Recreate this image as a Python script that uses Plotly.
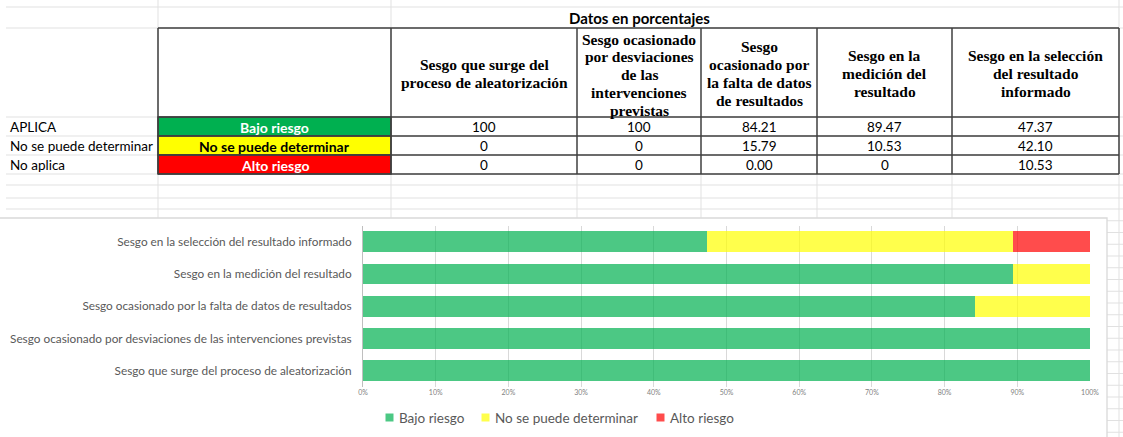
import plotly.graph_objects as go

# ---------------- data ----------------
categories = [
    "Sesgo que surge del proceso de aleatorización",
    "Sesgo ocasionado por desviaciones de las intervenciones previstas",
    "Sesgo ocasionado por la falta de datos de resultados",
    "Sesgo en la medición del resultado",
    "Sesgo en la selección del resultado informado",
]
header_labels = [
    ["Sesgo que surge del", "proceso de aleatorización"],
    ["Sesgo ocasionado", "por desviaciones", "de las", "intervenciones", "previstas"],
    ["Sesgo", "ocasionado por", "la falta de datos", "de resultados"],
    ["Sesgo en la", "medición del", "resultado"],
    ["Sesgo en la selección", "del resultado", "informado"],
]
series_names = ["Bajo riesgo", "No se puede determinar", "Alto riesgo"]
row_labels = ["APLICA", "No se puede determinar", "No aplica"]
bajo = [100, 100, 84.21, 89.47, 47.37]
no_det = [0, 0, 15.79, 10.53, 42.10]
alto = [0, 0, 0.00, 0, 10.53]
table_text = [
    ["100", "100", "84.21", "89.47", "47.37"],
    ["0", "0", "15.79", "10.53", "42.10"],
    ["0", "0", "0.00", "0", "10.53"],
]
title_text = "Datos en porcentajes"
x_ticks = [0, 10, 20, 30, 40, 50, 60, 70, 80, 90, 100]
x_tick_labels = [f"{v}%" for v in x_ticks]

# ---------------- style ----------------
W, H = 1123, 437
def X(p): return p / W
def Y(p): return 1 - p / H

bar_colors = ["rgba(0,176,80,0.7)", "rgba(255,255,0,0.7)", "rgba(255,0,0,0.7)"]
cell_fill = ["#00B050", "#FFFF00", "#FF0000"]
cell_font = ["white", "black", "white"]
GRID = "#e1e1e1"
BORDER = "#3f3f3f"
SANS = "Lato"
SERIF = "Liberation Serif"

fig = go.Figure()
for name, vals, col in zip(series_names, [bajo, no_det, alto], bar_colors):
    fig.add_trace(go.Bar(
        y=categories, x=vals, name=name, orientation="h",
        marker=dict(color=col, line=dict(width=0)), showlegend=False,
    ))

shapes = []
annotations = []

def line(x0, y0, x1, y1, color=GRID, width=1, layer="below"):
    shapes.append(dict(type="line", xref="paper", yref="paper",
                       x0=X(x0), y0=Y(y0), x1=X(x1), y1=Y(y1),
                       line=dict(color=color, width=width), layer=layer))

def rect(x0, y0, x1, y1, fill, color, width=1, layer="below"):
    shapes.append(dict(type="rect", xref="paper", yref="paper",
                       x0=X(x0), y0=Y(y0), x1=X(x1), y1=Y(y1),
                       fillcolor=fill, line=dict(color=color, width=width), layer=layer))

def text(x, y, s, size, color="black", family=SANS, bold=False, xanchor="center"):
    annotations.append(dict(xref="paper", yref="paper", x=X(x), y=Y(y), text=s,
                            showarrow=False, xanchor=xanchor, yanchor="middle",
                            font=dict(family=family, size=size, color=color,
                                      weight="bold" if bold else "normal")))

# spreadsheet grid
for yy in [7, 28, 117, 136, 155, 174, 185, 198, 209]:
    line(6, yy, 1123, yy)
for xx in [158, 391, 1119]:
    line(xx, 0, xx, 218)
for xx in [577, 701, 817, 952]:
    line(xx, 174, xx, 218)
line(1119, 218, 1119, 437)
yy = 209 + 11.75
while yy < 437:
    line(1107, yy, 1123, yy)
    yy += 11.75

# chart area
rect(-2, 218, 1107, 445, "white", "#d9d9d9", 1.3)

# table
col_edges = [391, 577, 701, 817, 952, 1119]
row_edges = [117, 136, 155, 174]
for i in range(3):
    rect(158, row_edges[i], 391, row_edges[i + 1], cell_fill[i], BORDER, 1.5, "above")
for yy in [28] + row_edges:
    line(158, yy, 1119, yy, BORDER, 1.5, "above")
for xx in [158] + col_edges:
    line(xx, 28, xx, 174, BORDER, 1.5, "above")

text(639, 18, title_text, 15, bold=True)
LH = 17.7
for j, lines in enumerate(header_labels):
    cx = (col_edges[j] + col_edges[j + 1]) / 2
    cy = 74.6 if len(lines) == 5 else 73.5
    top = cy - LH * (len(lines) - 1) / 2
    for k, s in enumerate(lines):
        text(cx, top + k * LH, s, 15.5, family=SERIF, bold=True)
for i in range(3):
    cy = (row_edges[i] + row_edges[i + 1]) / 2 + 0.5
    text(8, cy, row_labels[i], 13.5, xanchor="left")
    text(274.5, cy, series_names[i], 14, color=cell_font[i], bold=True)
    for j in range(5):
        cx = (col_edges[j] + col_edges[j + 1]) / 2
        text(cx, cy, table_text[i][j], 13.5)

# legend (manual)
leg_sq = [385.5, 481.5, 656.5]
for k in range(3):
    rect(leg_sq[k], 413.5, leg_sq[k] + 8, 421.5, bar_colors[k], bar_colors[k], 0, "above")
    text(leg_sq[k] + 11.5, 418, series_names[k], 13.5, color="#595959", xanchor="left")

fig.update_layout(
    width=W, height=H, autosize=False,
    margin=dict(l=0, r=0, t=0, b=0, autoexpand=False),
    paper_bgcolor="white", plot_bgcolor="rgba(0,0,0,0)",
    barmode="stack", barnorm="percent", bargap=0.35,
    shapes=shapes, annotations=annotations,
    xaxis=dict(domain=[X(363), X(1090)], range=[0, 100], tickvals=x_ticks,
               ticktext=x_tick_labels, automargin=False,
               showgrid=True, gridcolor="#d9d9d9", gridwidth=1,
               zeroline=False, showline=False, ticks="",
               tickfont=dict(family=SANS, size=7, color="#7f7f7f"), fixedrange=True),
    yaxis=dict(domain=[Y(386.7), Y(225.7)], type="category",
               categoryorder="array", categoryarray=categories, automargin=False,
               showline=True, linecolor="#bfbfbf", linewidth=1, ticks="",
               ticklabelstandoff=8, showgrid=False,
               tickfont=dict(family=SANS, size=11.8, color="#595959"), fixedrange=True),
)

fig.write_html(
    "out.html",
    config={"displayModeBar": False, "responsive": False},
    post_script="document.body.style.margin='0';document.body.style.overflow='hidden';",
)
